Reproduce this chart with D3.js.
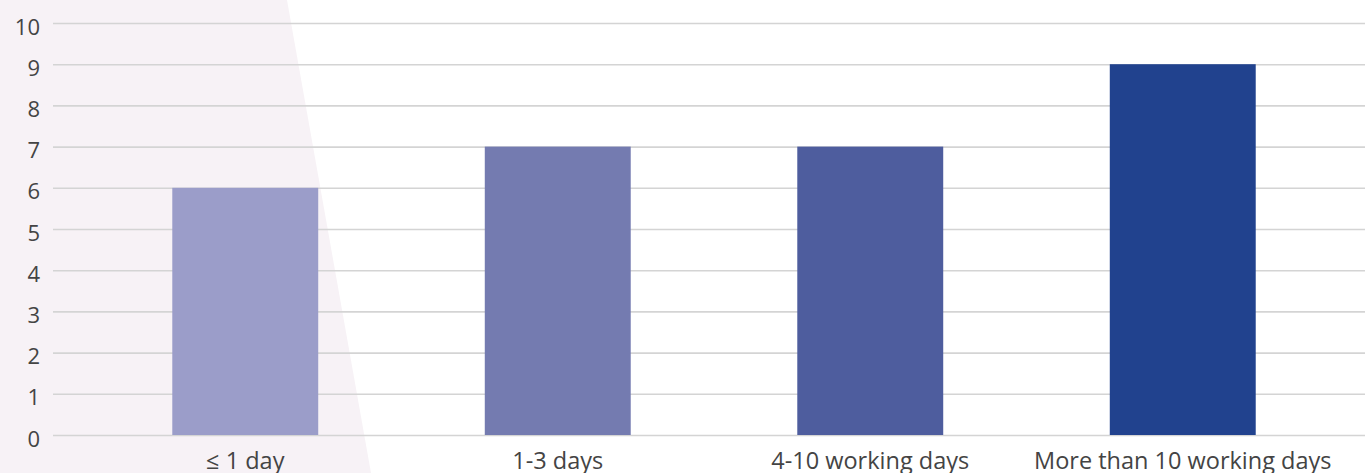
<!DOCTYPE html>
<html>
<head>
<meta charset="utf-8">
<script src="https://cdn.jsdelivr.net/npm/d3@7"></script>
<style>
  html, body { margin: 0; padding: 0; background: #fff; }
  svg { display: block; }
  text { font-family: "Open Sans", "Noto Sans", sans-serif; fill: #444; }
</style>
</head>
<body>
<svg id="chart" width="1365" height="473"></svg>
<script>
// Response time categories and counts
const categories = ["≤ 1 day", "1-3 days", "4-10 working days", "More than 10 working days"];
const counts = [6, 7, 7, 9];
const barColors = ["#9b9dc9", "#747bb0", "#4e5d9e", "#21428e"];
const yTicks = [0, 1, 2, 3, 4, 5, 6, 7, 8, 9, 10];

const W = 1365, H = 473;
const svg = d3.select("#chart");

// soft tinted panel behind the left part of the plot
svg.append("polygon")
  .attr("points", [[0, 0], [287, 0], [371, H], [0, H]].map(p => p.join(",")).join(" "))
  .attr("fill", "#f7f2f6");

const y = d3.scaleLinear().domain([0, 10]).range([435, 23]);
const x = d3.scaleBand().domain(categories).range([89, 1339])
  .paddingInner(0.533).paddingOuter(0.2665);

// horizontal grid lines
const grid = svg.append("g")
  .call(d3.axisLeft(y).tickValues(yTicks).tickSize(-(W - 53)).tickFormat(""))
  .attr("transform", "translate(53,0)");
grid.select(".domain").remove();
grid.selectAll(".tick line").attr("stroke", "#d4d4d4").attr("stroke-width", 1.6);

// y-axis labels
const yAxis = svg.append("g")
  .attr("transform", "translate(40,0)")
  .call(d3.axisLeft(y).tickValues(yTicks).tickSize(0).tickPadding(0));
yAxis.select(".domain").remove();
yAxis.selectAll("text")
  .style("font-size", "22px")
  .style("font-family", "'Open Sans', sans-serif")
  .attr("fill", "#444")
  .attr("dy", "0.5em");

// bars
svg.append("g").selectAll("rect")
  .data(categories)
  .join("rect")
  .attr("x", d => x(d))
  .attr("width", x.bandwidth())
  .attr("y", (d, i) => y(counts[i]))
  .attr("height", (d, i) => y(0) - y(counts[i]))
  .attr("fill", (d, i) => barColors[i]);

// category labels
const xAxis = svg.append("g")
  .attr("transform", "translate(0,469)")
  .call(d3.axisBottom(x).tickSize(0).tickPadding(0));
xAxis.select(".domain").remove();
xAxis.selectAll("text")
  .style("font-size", "23.5px")
  .style("font-family", "'Open Sans', sans-serif")
  .attr("fill", "#444")
  .attr("y", 0)
  .attr("dy", 0);
</script>
</body>
</html>
